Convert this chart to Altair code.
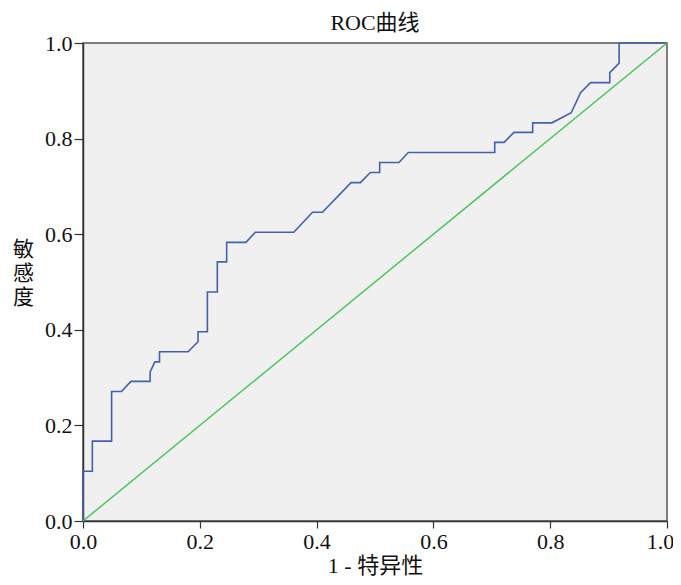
import altair as alt
import pandas as pd

fpr = [0.0, 0.0, 0.016, 0.016, 0.049, 0.049, 0.066, 0.082, 0.115, 0.115, 0.123, 0.131,
       0.131, 0.180, 0.197, 0.197, 0.213, 0.213, 0.230, 0.230, 0.246, 0.246, 0.279,
       0.295, 0.361, 0.377, 0.393, 0.410, 0.459, 0.475, 0.492, 0.508, 0.508, 0.541,
       0.557, 0.705, 0.705, 0.721, 0.738, 0.770, 0.770, 0.803, 0.836, 0.852, 0.869,
       0.902, 0.902, 0.918, 0.918, 1.0]
tpr = [0.0, 0.104, 0.104, 0.167, 0.167, 0.271, 0.271, 0.292, 0.292, 0.312, 0.333, 0.333,
       0.354, 0.354, 0.375, 0.396, 0.396, 0.479, 0.479, 0.542, 0.542, 0.583, 0.583,
       0.604, 0.604, 0.625, 0.646, 0.646, 0.708, 0.708, 0.729, 0.729, 0.750, 0.750,
       0.771, 0.771, 0.792, 0.792, 0.813, 0.813, 0.833, 0.833, 0.854, 0.896, 0.917,
       0.917, 0.938, 0.958, 1.0, 1.0]
ref_x = [0.0, 1.0]
ref_y = [0.0, 1.0]
ticks = [0.0, 0.2, 0.4, 0.6, 0.8, 1.0]

roc = pd.DataFrame({"fpr": fpr, "tpr": tpr, "i": list(range(len(fpr)))})
ref = pd.DataFrame({"fpr": ref_x, "tpr": ref_y, "i": [0, 1]})

LAT = "Times New Roman"
CJK = "Times New Roman, Noto Sans CJK SC"

xenc = alt.X("fpr:Q", scale=alt.Scale(domain=[0, 1], nice=False),
             axis=alt.Axis(values=ticks, format=".1f", title="1 - 特异性",
                           tickSize=7, labelPadding=3, titlePadding=3,
                           labelOffset={"condition": {"test": "datum.value == 1", "value": -7},
                                        "value": 0}))
yenc = alt.Y("tpr:Q", scale=alt.Scale(domain=[0, 1], nice=False),
             axis=alt.Axis(values=ticks, format=".1f", title=["敏", "感", "度"],
                           tickSize=9, labelPadding=2,
                           titleAngle=0, titleAlign="center",
                           titleBaseline="top", titleX=-60, titleY=195,
                           titleLineHeight=24, titleFontSize=21))

roc_line = alt.Chart(roc).mark_line(color="#4560ad", strokeWidth=1.6).encode(
    x=xenc, y=yenc, order="i:Q")
ref_line = alt.Chart(ref).mark_line(color="#44c255", strokeWidth=1.4).encode(
    x="fpr:Q", y="tpr:Q", order="i:Q")

chart = alt.layer(roc_line, ref_line).properties(
    width=584, height=478,
    title=alt.TitleParams("ROC曲线", font=CJK, fontSize=22, fontWeight="normal",
                          color="#111", offset=-3),
    autosize=alt.AutoSizeParams(type="none"),
    padding={"left": 75, "top": 35, "right": 6, "bottom": 56},
    background="white",
).configure_view(fill="#f0f0f0", stroke="#555", strokeWidth=1.5
).configure_axis(
    grid=False, tickColor="#333", domainColor="#333",
    domainWidth=1.5, tickWidth=1.2, labelFontSize=22, labelFont=LAT,
    labelColor="#111", titleFont=CJK, titleFontSize=22,
    titleFontWeight="normal", titleColor="#111", labelFlush=False
)

chart.save("out.html", embed_options={"renderer": "svg", "actions": False})
